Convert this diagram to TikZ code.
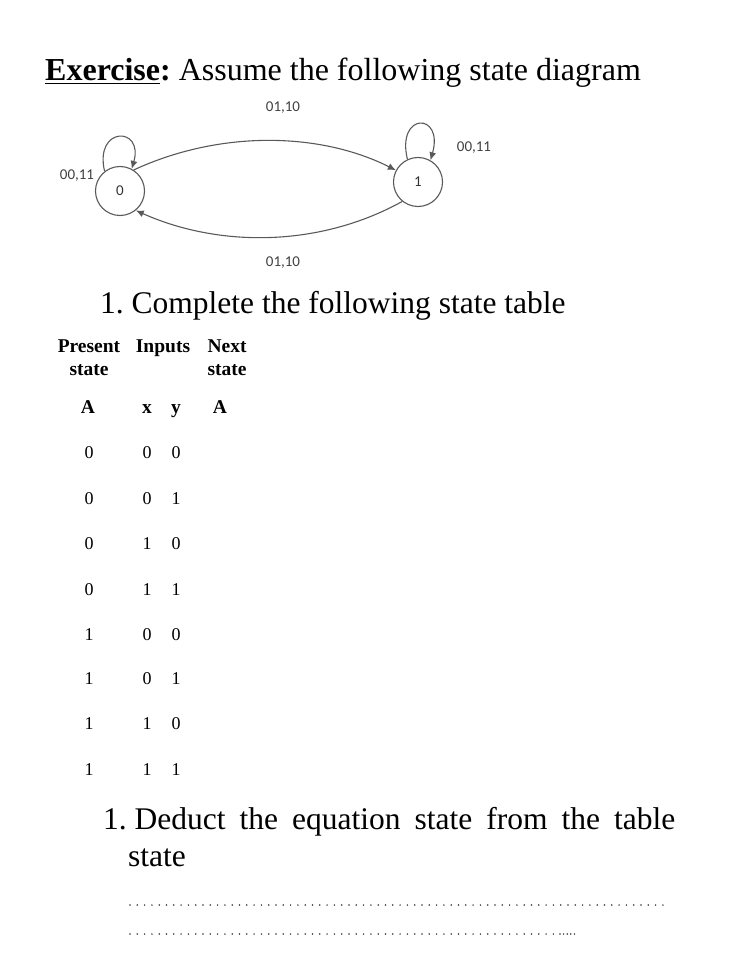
\documentclass[tikz,border=0pt]{standalone}
\usepackage{fontspec}
\setmainfont{Liberation Serif}
\newfontfamily\diagfont{Carlito}
\usetikzlibrary{arrows.meta}
\frenchspacing
\tikzset{
  state/.style={draw=black!65, circle, minimum size=49pt, inner sep=0pt, line width=1.1pt, text=black!80, font=\diagfont\fontsize{15}{17}\selectfont},
  lbl/.style={font=\diagfont\fontsize{15}{17}\selectfont, text=black!75, inner sep=0pt},
  edge/.style={draw=black!65, line width=1.1pt, -{Latex[length=8pt,width=7pt]}},
  head/.style={font=\bfseries\fontsize{19.5}{22}\selectfont, inner sep=0pt, anchor=base},
  cell/.style={font=\fontsize{18}{20}\selectfont, inner sep=0pt, anchor=base},
  big/.style={font=\fontsize{31.5}{34}\selectfont, inner sep=0pt, anchor=base west},
  dotline/.style={line width=1.7pt, draw=black!80, dash pattern=on 0pt off 7.3pt, line cap=round}
}
\begin{document}
\begin{tikzpicture}[x=1pt,y=-1pt]
\useasboundingbox (0,0) rectangle (746,976);
% title
\node[big, font=\fontsize{32}{36}\selectfont] (title) at (45,81) {\underline{\textbf{Exercise}}\textbf{:} Assume the following state diagram};
% state diagram
\node[state] (s0) at (120,191) {0};
\node[state] (s1) at (418,182) {1};
\draw[edge] (s0.57) .. controls (220,130) and (320,132) .. (s1.152);
\draw[edge] (s1.231) .. controls (320,247) and (220,248) .. (s0.-51);
\draw[edge] (s0.128) .. controls (94,126) and (144,126) .. (s0.62);
\draw[edge] (s1.115) .. controls (396,112) and (444,112) .. (s1.60);
\node[lbl] (l01a) at (283,108) {01,10};
\node[lbl] (l01b) at (283,263) {01,10};
\node[lbl] (l00a) at (77,176) {00,11};
\node[lbl] (l00b) at (474,148) {00,11};
% question 1
\node[big] (q1) at (100,313) {1. Complete the following state table};
% table header
\node[head] (h1) at (89,352) {Present};
\node[head] (h1b) at (89,375) {state};
\node[head] (h2) at (163,352) {Inputs};
\node[head] (h3) at (227,352) {Next};
\node[head] (h3b) at (227,375) {state};
\node[head] (hA) at (88,413) {A};
\node[head] (hx) at (147,413) {x};
\node[head] (hy) at (176,413) {y};
\node[head] (hA2) at (220,413) {A};
% rows
\foreach \i/\a/\x/\y/\yy in {1/0/0/0/458, 2/0/0/1/504, 3/0/1/0/549, 4/0/1/1/595, 5/1/0/0/640, 6/1/0/1/684, 7/1/1/0/729, 8/1/1/1/775}{
  \node[cell] (ra\i) at (89,\yy) {\a};
  \node[cell] (rx\i) at (147,\yy) {\x};
  \node[cell] (ry\i) at (176,\yy) {\y};
}
% question 2
\node[big] (q2) at (103,829) {\hbox to 572pt{1. Deduct\hfill the\hfill equation\hfill state\hfill from\hfill the\hfill table}};
\node[big] (q2b) at (128,866) {state};
\draw[dotline] (130,905) -- (670,905);
\draw[dotline] (130,934) -- (560,934);
\draw[dotline, dash pattern=on 0pt off 3.6pt] (560,934) -- (578,934);
\end{tikzpicture}
\end{document}
